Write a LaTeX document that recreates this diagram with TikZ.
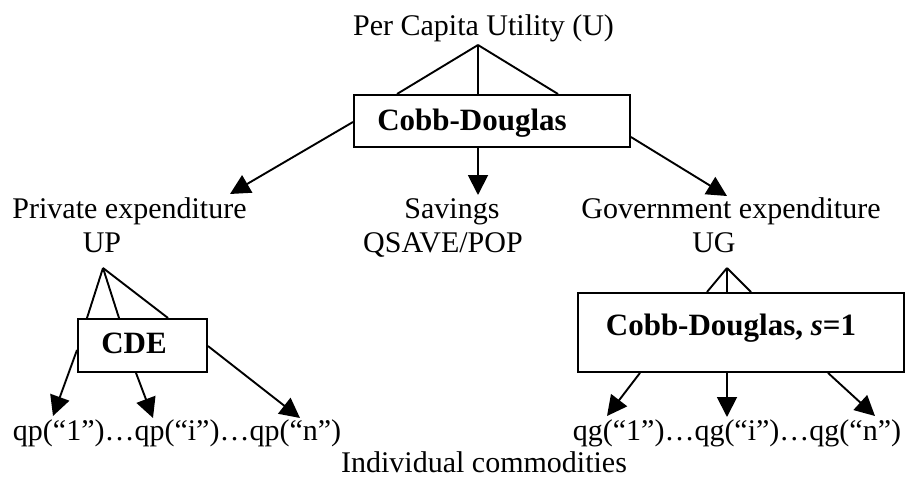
\documentclass[tikz,border=0pt]{standalone}
\usepackage{fontspec}
\setmainfont{Liberation Serif}
\usetikzlibrary{arrows.meta}
\begin{document}
\begin{tikzpicture}[x=1pt,y=-1pt,line width=1.9pt,
  txt/.style={inner sep=0pt,anchor=base,font=\fontsize{30}{36}\selectfont},
  btxt/.style={inner sep=0pt,anchor=base,font=\fontsize{31}{36}\selectfont\bfseries},
  box/.style={draw,inner sep=0pt,anchor=north west},
  arr/.style={-{Triangle[length=20pt,width=20pt]}}
]
\useasboundingbox (0,0) rectangle (906,479);

% texts
\node[txt] (title) at (483.5,35) {Per Capita Utility (U)};
\node[txt] (pe) at (129.5,218) {Private expenditure};
\node[txt] (up) at (102,252) {UP};
\node[txt] (sav) at (452,218) {Savings};
\node[txt] (qsave) at (443,252) {QSAVE/POP};
\node[txt] (ge) at (731,218) {Government expenditure};
\node[txt] (ug) at (714,252) {UG};
\node[txt,anchor=base west] (qp) at (12,440) {qp(“1”)…qp(“i”)…qp(“n”)};
\node[txt,anchor=base east] (qg) at (902,440) {qg(“1”)…qg(“i”)…qg(“n”)};
\node[txt] (ind) at (484,472) {Individual commodities};

% boxes
\node[box,minimum width=276pt,minimum height=52pt] (cdbox) at (353,94) {};
\node[btxt] (cdtext) at (472,130) {Cobb-Douglas};
\node[box,minimum width=129pt,minimum height=53pt] (cdebox) at (77,318) {};
\node[btxt] (cdetext) at (134,353) {CDE};
\node[box,minimum width=326pt,minimum height=79pt] (gbox) at (577,292) {};
\node[btxt] (gtext) at (731,335) {Cobb-Douglas, {\itshape s}=1};

% apexes
\coordinate (ua) at (478,45);
\coordinate (upa) at (103,268);
\coordinate (uga) at (727,268);

% fan lines
\draw (ua) -- (397,0 |- cdbox.north);
\draw (ua) -- (478,0 |- cdbox.north);
\draw (ua) -- (558,0 |- cdbox.north);
\draw (upa) -- (87,0 |- cdebox.north);
\draw (upa) -- (119,0 |- cdebox.north);
\draw (upa) -- (168,0 |- cdebox.north);
\draw (uga) -- (707,0 |- gbox.north);
\draw (uga) -- (727,0 |- gbox.north);
\draw (uga) -- (751,0 |- gbox.north);

% tips
\coordinate (tpe) at (230,194);
\coordinate (tsav) at (478,195);
\coordinate (tge) at (727,196);
\coordinate (tq1) at (53,416);
\coordinate (tqi) at (153,418);
\coordinate (tqn) at (300,418);
\coordinate (tg1) at (607,416);
\coordinate (tgi) at (727,417);
\coordinate (tgn) at (875,416);

% arrows
\draw[arr] (cdbox.west |- 0,122) -- (tpe);
\draw[arr] (478,0 |- cdbox.south) -- (tsav);
\draw[arr] (cdbox.east |- 0,137) -- (tge);
\draw[arr] (cdebox.west |- 0,350) -- (tq1);
\draw[arr] (136,0 |- cdebox.south) -- (tqi);
\draw[arr] (cdebox.east |- 0,346) -- (tqn);
\draw[arr] (640,0 |- gbox.south) -- (tg1);
\draw[arr] (727,0 |- gbox.south) -- (tgi);
\draw[arr] (828,0 |- gbox.south) -- (tgn);
\end{tikzpicture}
\end{document}
